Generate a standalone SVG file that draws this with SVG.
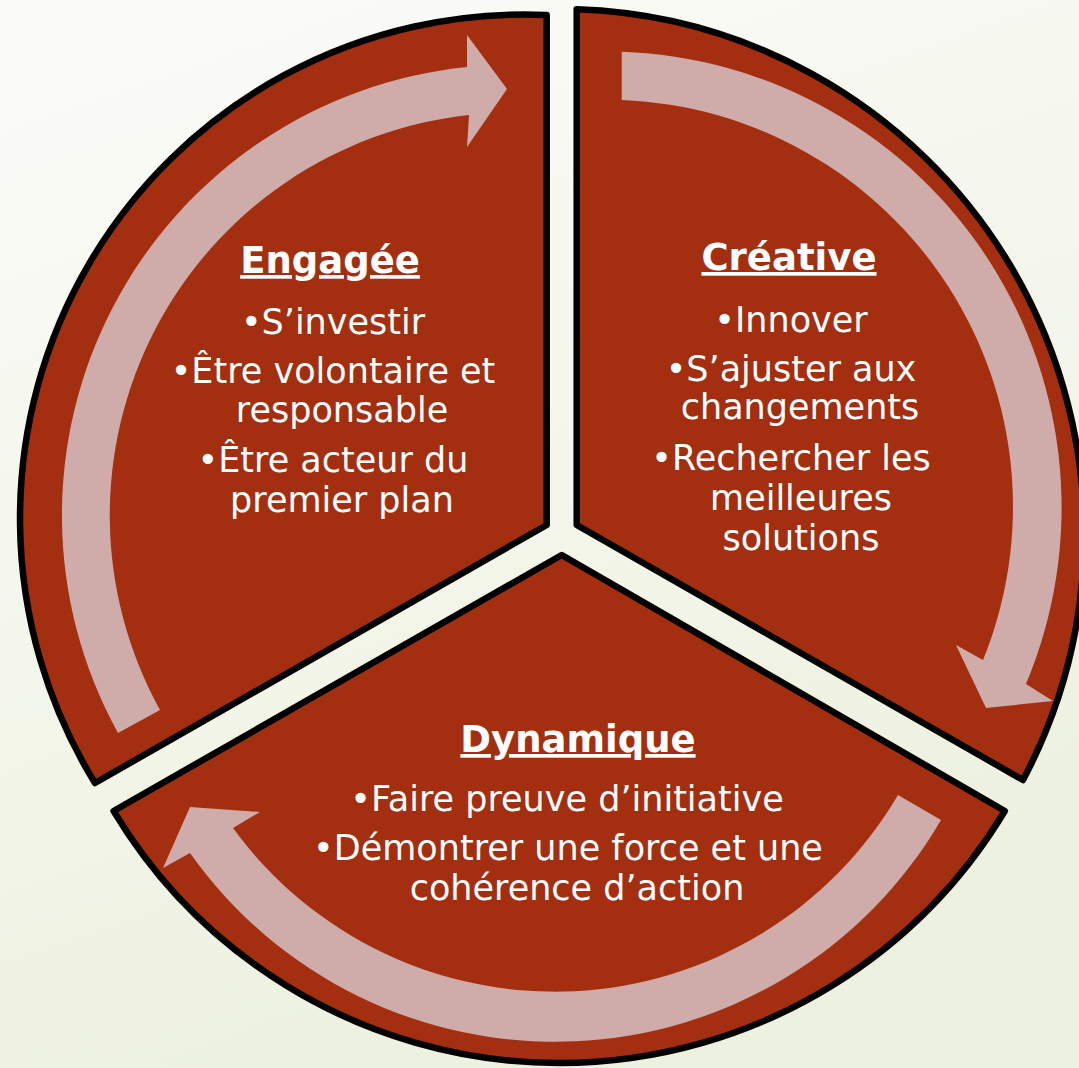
<svg xmlns="http://www.w3.org/2000/svg" width="1079" height="1068" viewBox="0 0 1079 1068">
  <defs>
    <linearGradient id="bg" x1="0" y1="0" x2="0.35" y2="1">
      <stop offset="0" stop-color="#FBFCF9"/>
      <stop offset="1" stop-color="#EDF1DF"/>
    </linearGradient>
    <style>
      .sector { fill: #A42E10; stroke: #000; stroke-width: 6.5; stroke-linejoin: round; }
      .arrow { fill: #CFACA9; stroke: none; }
      .title { font-family: "DejaVu Sans", "Liberation Sans", sans-serif; font-weight: bold; font-size: 37px; fill: #fff; text-anchor: middle; text-decoration: underline; }
      .body { font-family: "DejaVu Sans", "Liberation Sans", sans-serif; font-size: 35px; fill: #fff; text-anchor: middle; }
    </style>
  </defs>
  <rect x="0" y="0" width="1079" height="1068" fill="url(#bg)"/>

  <g id="node-engagee">
    <path class="sector" d="M 546.7 525 L 95 783 A 504 504 0 0 1 546.7 15 Z"/>
  </g>
  <g id="node-creative">
    <path class="sector" d="M 576.7 525 L 576.7 9.3 A 525 525 0 0 1 1023 780 Z"/>
  </g>
  <g id="node-dynamique">
    <path class="sector" d="M 561.7 555 L 113.6 811 A 520 520 0 0 0 1004.8 811 Z"/>
  </g>

  <g id="connectors">
    <path class="arrow" d="M 118 733 A 450.6 450.6 0 0 1 467 67 L 467 35 L 507 89 L 467 147 L 469 115 A 402.6 402.6 0 0 0 160 710 Z"/>
    <path class="arrow" d="M 621.7 51.7 A 456 456 0 0 1 1026 684 L 1053 701 L 986 708 L 956 645 L 983 660 A 407 407 0 0 0 621.7 100 Z"/>
    <path class="arrow" d="M 941 820 A 447 447 0 0 1 190 853 L 163 868 L 190 807 L 260 812 L 233 828 A 398 398 0 0 0 898 795 Z"/>
  </g>

  <g id="text-engagee">
    <text class="title" x="330" y="273">Engagée</text>
    <text class="body" x="333" y="334">•S’investir</text>
    <text class="body" x="333" y="383">•Être volontaire et</text>
    <text class="body" x="342" y="422">responsable</text>
    <text class="body" x="333" y="472">•Être acteur du</text>
    <text class="body" x="342" y="512">premier plan</text>
  </g>
  <g id="text-creative">
    <text class="title" x="789" y="270">Créative</text>
    <text class="body" x="791" y="332">•Innover</text>
    <text class="body" x="791" y="381">•S’ajuster aux</text>
    <text class="body" x="800" y="419">changements</text>
    <text class="body" x="791" y="470">•Rechercher les</text>
    <text class="body" x="801" y="510">meilleures</text>
    <text class="body" x="801" y="550">solutions</text>
  </g>
  <g id="text-dynamique">
    <text class="title" x="578" y="752">Dynamique</text>
    <text class="body" x="567" y="811">•Faire preuve d’initiative</text>
    <text class="body" x="568" y="860">•Démontrer une force et une</text>
    <text class="body" x="577" y="900">cohérence d’action</text>
  </g>
</svg>
